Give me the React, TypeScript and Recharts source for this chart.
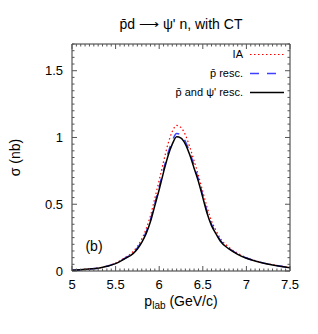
import { LineChart, Line, XAxis, YAxis, ReferenceArea, Legend, Customized } from "recharts";

// p_lab (GeV/c)
const pLab = [5.0, 5.1, 5.2, 5.3, 5.4, 5.5, 5.6, 5.7, 5.75, 5.8, 5.85, 5.9, 5.95, 6.0, 6.05, 6.1, 6.15, 6.2, 6.25, 6.3, 6.35, 6.4, 6.45, 6.5, 6.55, 6.6, 6.65, 6.7, 6.8, 6.9, 7.0, 7.1, 7.2, 7.3, 7.4, 7.5];
// sigma (nb)
const sigmaIA = [0.005, 0.01, 0.016, 0.023, 0.038, 0.06, 0.097, 0.145, 0.185, 0.24, 0.315, 0.415, 0.545, 0.68, 0.82, 0.95, 1.045, 1.09, 1.075, 1.02, 0.93, 0.825, 0.715, 0.595, 0.475, 0.375, 0.305, 0.245, 0.178, 0.133, 0.1, 0.078, 0.06, 0.047, 0.036, 0.027];
const sigmaPbarResc = [0.005, 0.01, 0.015, 0.021, 0.036, 0.057, 0.093, 0.135, 0.172, 0.225, 0.292, 0.385, 0.505, 0.63, 0.76, 0.88, 0.975, 1.03, 1.02, 0.97, 0.89, 0.79, 0.685, 0.565, 0.445, 0.35, 0.288, 0.231, 0.169, 0.128, 0.097, 0.077, 0.059, 0.046, 0.035, 0.026];
const sigmaBothResc = [0.005, 0.01, 0.015, 0.02, 0.035, 0.055, 0.09, 0.13, 0.165, 0.215, 0.28, 0.37, 0.49, 0.61, 0.74, 0.86, 0.95, 1.005, 0.995, 0.95, 0.87, 0.77, 0.67, 0.55, 0.43, 0.34, 0.28, 0.225, 0.165, 0.125, 0.095, 0.075, 0.058, 0.045, 0.034, 0.025];

const xMajor = [5, 5.5, 6, 6.5, 7, 7.5];
const yMajor = [0, 0.5, 1, 1.5];
const xMinor = Array.from({ length: 51 }, (_, i) => +(5 + i * 0.05).toFixed(2));
const yMinor = Array.from({ length: 35 }, (_, i) => +(i * 0.05).toFixed(2));

const data = pLab.map((p, i) => ({
  p,
  ia: sigmaIA[i],
  pr: sigmaPbarResc[i],
  both: sigmaBothResc[i],
}));

const FONT = '"Liberation Sans", Arial, Helvetica, sans-serif';
const W = 318, H = 334;
// plot box: x 72..290, y 44..271
const PLOT = { left: 72, top: 44, right: 290, bottom: 271 };
const PW = PLOT.right - PLOT.left;
const PH = PLOT.bottom - PLOT.top;
const X_AXIS_H = 30;
const Y_AXIS_W = 40;
const M = { top: PLOT.top, right: W - PLOT.right, bottom: H - PLOT.bottom - X_AXIS_H, left: PLOT.left - Y_AXIS_W };
const TICK = "#555";

const series = [
  { key: "ia", name: "IA", color: "#ff0000", dash: "1.5 2.5", width: 1.2 },
  { key: "pr", name: "p\u0304 resc.", color: "#4040ff", dash: "9 8", width: 1.5 },
  { key: "both", name: "p\u0304 and \u03c8' resc.", color: "#000000", dash: undefined, width: 1.5 },
];

const isMajor = (v: number, list: number[]) => list.some(t => Math.abs(t - v) < 1e-6);

const XTick = (props: any) => {
  const { x, payload } = props;
  const v = payload.value;
  const y = PLOT.bottom;
  const major = isMajor(v, xMajor);
  const len = major ? 5 : 2.5;
  return (
    <g>
      <line x1={x} x2={x} y1={y} y2={y - len} stroke={TICK} />
      <line x1={x} x2={x} y1={PLOT.top} y2={PLOT.top + len} stroke={TICK} />
      {major && (
        <text x={x} y={y + 18} textAnchor="middle" fontSize={13} fontFamily={FONT} fill="#000">{v}</text>
      )}
    </g>
  );
};

const YTick = (props: any) => {
  const { y, payload } = props;
  const v = payload.value;
  const x = PLOT.left;
  const major = isMajor(v, yMajor);
  const len = major ? 5 : 2.5;
  return (
    <g>
      <line x1={x} x2={x + len} y1={y} y2={y} stroke={TICK} />
      <line x1={PLOT.right} x2={PLOT.right - len} y1={y} y2={y} stroke={TICK} />
      {major && (
        <text x={x - 9} y={y + 4.5} textAnchor="end" fontSize={13} fontFamily={FONT} fill="#000">{v}</text>
      )}
    </g>
  );
};

const LegendBox = () => (
  <div style={{ fontFamily: FONT, fontSize: 11 }}>
    {series.map(s => (
      <div key={s.key} style={{ display: "flex", justifyContent: "flex-end", alignItems: "center", height: 19 }}>
        <span style={{ whiteSpace: "nowrap", lineHeight: "19px" }}>{s.name}</span>
        <svg width={47} height={19} style={{ display: "block" }}>
          <line x1={7} x2={41} y1={9.5} y2={9.5} stroke={s.color} strokeWidth={s.width} strokeDasharray={s.dash} />
        </svg>
      </div>
    ))}
  </div>
);

const Labels = () => (
  <g fontFamily={FONT} fill="#000">
    <text x={PLOT.left + PW / 2} y={29} textAnchor="middle" fontSize={14}>
      p̄d ⟶ ψ' n, with CT
    </text>
    <text x={15} y={PLOT.top + PH / 2} textAnchor="middle" dominantBaseline="central" fontSize={14}
      transform={`rotate(-90, 15, ${PLOT.top + PH / 2})`}>
      σ (nb)
    </text>
    <text x={PLOT.left + PW / 2} y={306} textAnchor="middle" fontSize={14}>
      p<tspan fontSize={10} dy={3}>lab</tspan><tspan dy={-3}> (GeV/c)</tspan>
    </text>
    <text x={94} y={251} textAnchor="middle" fontSize={14}>(b)</text>
  </g>
);

export default function App() {
  return (
    <div style={{ width: W, height: H, background: "#fff" }}>
      <style>{"body{margin:0}"}</style>
      <LineChart width={W} height={H} data={data} margin={M}>
        <XAxis dataKey="p" type="number" domain={[5, 7.5]} ticks={xMinor} interval={0}
          tick={XTick} tickLine={false} axisLine={false} tickSize={0} tickMargin={0} height={X_AXIS_H} allowDataOverflow />
        <YAxis type="number" domain={[0, 1.7]} ticks={yMinor} interval={0}
          tick={YTick} tickLine={false} axisLine={false} tickSize={0} tickMargin={0} width={Y_AXIS_W} allowDataOverflow />
        <ReferenceArea x1={5} x2={7.5} y1={0} y2={1.7} fill="none" stroke="#333" strokeWidth={1} />
        {series.map(s => (
          <Line key={s.key} dataKey={s.key} name={s.name} type="monotone" stroke={s.color}
            strokeWidth={s.width} strokeDasharray={s.dash} dot={false} activeDot={false} isAnimationActive={false} />
        ))}
        <Legend layout="horizontal" verticalAlign="middle" align="center" content={<LegendBox />}
          wrapperStyle={{ top: 45, left: 130, width: 160, height: 57 }} />
        <Customized component={Labels} />
      </LineChart>
    </div>
  );
}
